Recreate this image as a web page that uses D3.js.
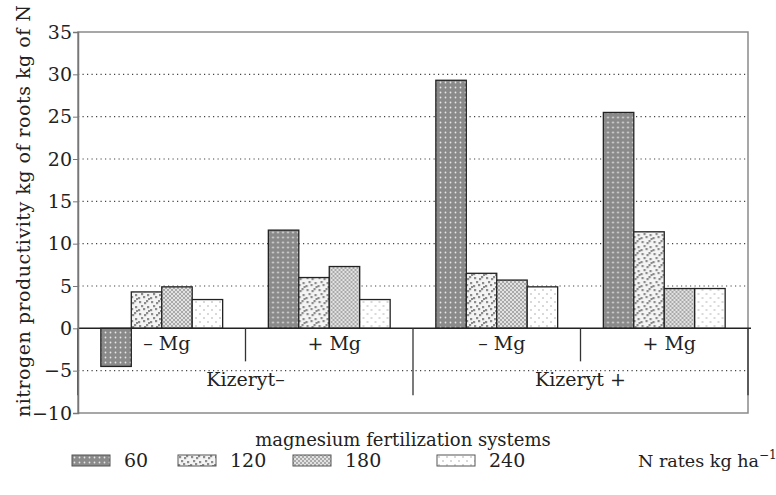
<!DOCTYPE html>
<html>
<head>
<meta charset="utf-8">
<script src="https://cdn.jsdelivr.net/npm/d3@7"></script>
<style>
  body { margin: 0; background: #fff; }
  svg text { font-family: "DejaVu Serif", "Liberation Serif", serif; fill: #222; }
</style>
</head>
<body>
<div id="chart"></div>
<script>
// values
var systems = ["– Mg", "+ Mg", "– Mg", "+ Mg"];
var kizeryt = ["Kizeryt–", "Kizeryt +"];
var rates = ["60", "120", "180", "240"];
var rate60 = [-4.5, 11.6, 29.3, 25.5];
var rate120 = [4.3, 6.0, 6.5, 11.4];
var rate180 = [4.9, 7.3, 5.7, 4.7];
var rate240 = [3.4, 3.4, 4.9, 4.7];
var yTicks = [-10, -5, 0, 5, 10, 15, 20, 25, 30, 35];

var series = [rate60, rate120, rate180, rate240];
var data = systems.map(function (s, i) {
  return rates.map(function (r, j) { return { group: i, rate: r, value: series[j][i] } })
})

var W = 776, H = 495;
var pL = 78, pR = 748, pT = 32, pB = 413;

var svg = d3.select("#chart").append("svg")
  .attr("width", W).attr("height", H);

// fill patterns
var defs = svg.append("defs");
var p60 = defs.append("pattern").attr("id", "p60").attr("patternUnits", "userSpaceOnUse")
  .attr("width", 5).attr("height", 5);
p60.append("rect").attr("width", 5).attr("height", 5).attr("fill", "#8a8a8a");
p60.append("circle").attr("cx", 2.5).attr("cy", 2.5).attr("r", 0.9).attr("fill", "#e6e6e6");

var p120 = defs.append("pattern").attr("id", "p120").attr("patternUnits", "userSpaceOnUse")
  .attr("width", 12).attr("height", 12);
p120.append("rect").attr("width", 12).attr("height", 12).attr("fill", "#f4f4f4");
[[1, 1], [6, 2], [9, 6], [3, 5], [0, 9], [5, 8], [10, 10], [8, 0]].forEach(function (p) {
  p120.append("rect").attr("x", p[0]).attr("y", p[1]).attr("width", 2.2).attr("height", 2.2).attr("fill", "#8c8c8c");
})

var p180 = defs.append("pattern").attr("id", "p180").attr("patternUnits", "userSpaceOnUse")
  .attr("width", 4).attr("height", 4);
p180.append("rect").attr("width", 4).attr("height", 4).attr("fill", "#e2e2e2");
p180.append("path").attr("d", "M0,0L4,4M4,0L0,4").attr("stroke", "#9a9a9a").attr("stroke-width", 0.8);

var p240 = defs.append("pattern").attr("id", "p240").attr("patternUnits", "userSpaceOnUse")
  .attr("width", 8).attr("height", 8);
p240.append("rect").attr("width", 8).attr("height", 8).attr("fill", "#fff");
p240.append("circle").attr("cx", 2).attr("cy", 2).attr("r", 0.8).attr("fill", "#aaa");
p240.append("circle").attr("cx", 6).attr("cy", 6).attr("r", 0.8).attr("fill", "#aaa");

var fills = { "60": "url(#p60)", "120": "url(#p120)", "180": "url(#p180)", "240": "url(#p240)" };

var y = d3.scaleLinear().domain([-10, 35]).range([pB, pT]);
var x0 = d3.scaleBand().domain(d3.range(systems.length)).range([pL, pR]);
var x1 = d3.scaleBand().domain(rates).range([0, x0.bandwidth()]).paddingInner(0).paddingOuter(0.75);
var xk = d3.scaleBand().domain(d3.range(kizeryt.length)).range([pL, pR]);

// dotted grid
svg.append("g").selectAll("line")
  .data(yTicks.filter(function (t) { return t != 0 && t != -10 && t != 35 }))
  .enter().append("line")
  .attr("x1", pL).attr("x2", pR)
  .attr("y1", function (d) { return y(d) }).attr("y2", function (d) { return y(d) })
  .attr("stroke", "#444").attr("stroke-width", 1.2).attr("stroke-dasharray", "1.2,3.3");

// frame
svg.append("rect").attr("x", pL).attr("y", pT).attr("width", pR - pL).attr("height", pB - pT)
  .attr("fill", "none").attr("stroke", "#8a8a8a").attr("stroke-width", 1.5);

// bars
svg.append("g").selectAll("g")
  .data(data).enter().append("g")
  .attr("transform", function (d, i) { return "translate(" + x0(i) + ",0)" })
  .selectAll("rect")
  .data(function (d) { return d }).enter().append("rect")
  .attr("x", function (d) { return x1(d.rate) })
  .attr("width", x1.bandwidth())
  .attr("y", function (d) { return y(Math.max(0, d.value)) })
  .attr("height", function (d) { return Math.abs(y(d.value) - y(0)) })
  .attr("fill", function (d) { return fills[d.rate] })
  .attr("stroke", "#222").attr("stroke-width", 1.3);

// zero line and category separators
svg.append("line").attr("x1", pL).attr("x2", pR + 3).attr("y1", y(0)).attr("y2", y(0))
  .attr("stroke", "#222").attr("stroke-width", 1.5);
svg.append("g").selectAll("line")
  .data(d3.range(1, systems.length + 1))
  .enter().append("line")
  .attr("x1", function (i) { return pL + i * x0.step() })
  .attr("x2", function (i) { return pL + i * x0.step() })
  .attr("y1", y(0))
  .attr("y2", function (i) { return i % 2 == 0 ? y(-7.9) : y(-3.9) })
  .attr("stroke", "#333").attr("stroke-width", 1.3);
svg.append("line").attr("x1", pL).attr("x2", pL).attr("y1", y(0)).attr("y2", y(-7.9))
  .attr("stroke", "#333").attr("stroke-width", 1.3);

svg.append("g").selectAll("text")
  .data(systems).enter().append("text")
  .attr("x", function (d, i) { return x0(i) + x0.bandwidth() / 2 + 5 })
  .attr("y", y(0) + 22)
  .attr("text-anchor", "middle").attr("font-size", 19)
  .text(function (d) { return d });

svg.append("g").selectAll("text")
  .data(kizeryt).enter().append("text")
  .attr("x", function (d, i) { return xk(i) + xk.bandwidth() / 2 })
  .attr("y", y(0) + 58)
  .attr("text-anchor", "middle").attr("font-size", 19)
  .text(function (d) { return d });

// y axis
var yAxis = svg.append("g").attr("transform", "translate(" + pL + ",0)")
  .call(d3.axisLeft(y).tickValues(yTicks).tickSize(5).tickFormat(function (d) { return d < 0 ? "−" + Math.abs(d) : d }));
yAxis.select(".domain").attr("stroke", "#777").attr("stroke-width", 1.5);
yAxis.selectAll(".tick line").attr("stroke", "#777");
yAxis.selectAll(".tick text").attr("font-size", 19).attr("font-family", "DejaVu Serif").attr("fill", "#222").attr("x", -6);

svg.append("text")
  .attr("transform", "translate(30,211) rotate(-90)")
  .attr("text-anchor", "middle").attr("font-size", 19)
  .attr("textLength", 412).attr("lengthAdjust", "spacing")
  .text("nitrogen  productivity  kg  of  roots  kg  of  N");

svg.append("text").attr("x", 403).attr("y", 446)
  .attr("text-anchor", "middle").attr("font-size", 18)
  .text("magnesium fertilization systems");

// legend
var legendX = [72, 178, 293, 437];
var lg = svg.append("g").selectAll("g")
  .data(rates).enter().append("g")
  .attr("transform", function (d, i) { return "translate(" + legendX[i] + ",455)" });
lg.append("rect").attr("width", 38).attr("height", 11)
  .attr("fill", function (d) { return fills[d] }).attr("stroke", "#555").attr("stroke-width", 1);
lg.append("text").attr("x", 52).attr("y", 12).attr("font-size", 19)
  .text(function (d) { return d });

var nr = svg.append("text").attr("x", 638).attr("y", 467).attr("font-size", 17);
nr.append("tspan").attr("textLength", 121).attr("lengthAdjust", "spacingAndGlyphs").text("N rates kg ha");
nr.append("tspan").attr("dy", -8).attr("font-size", 12).text("−1");
</script>
</body>
</html>
